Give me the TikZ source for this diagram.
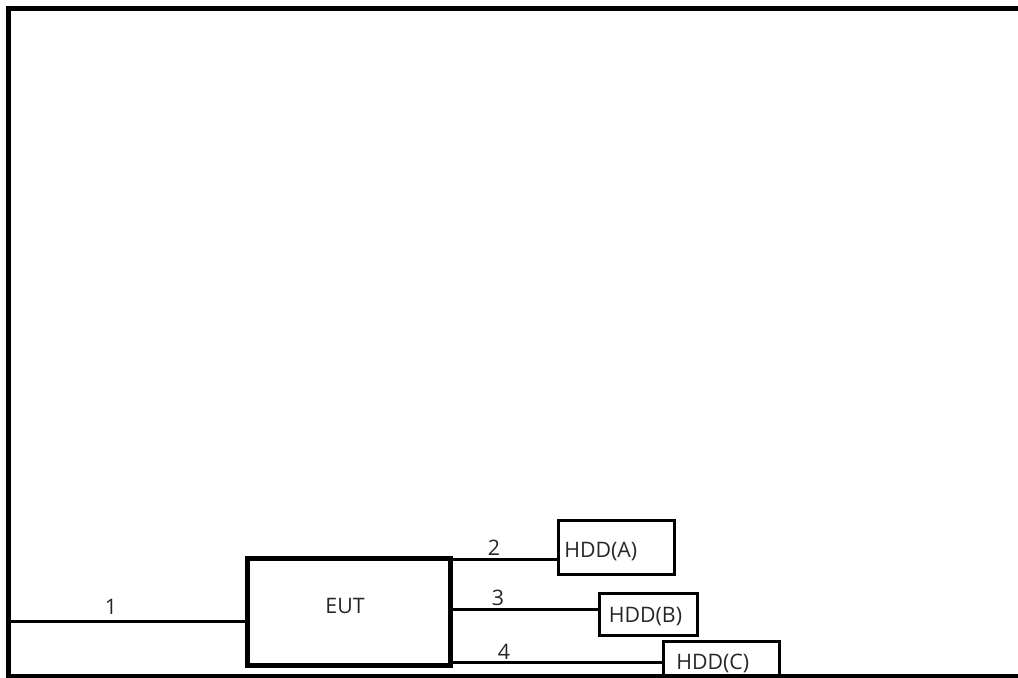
\documentclass[tikz,border=0pt]{standalone}
\usepackage{fontspec}
\setmainfont{Open Sans}
\begin{document}
\begin{tikzpicture}[x=0.75pt,y=-0.75pt,
  frame/.style={line width=3.75pt},
  eutbox/.style={draw,line width=3.75pt,minimum width=203*0.75pt,minimum height=107*0.75pt,inner sep=0pt},
  hddbox/.style={draw,line width=2.25pt,inner sep=0pt},
  conn/.style={line width=2.25pt},
  txt/.style={inner sep=0pt,text=black!85,font=\fontsize{16}{18}\selectfont}]
\useasboundingbox (0,0) rectangle (1018,678);
% EUT
\node[eutbox] (eut) at (348.5,612) {};
\node[txt] (eutt) at (345,606) {EUT};
% HDD boxes
\node[hddbox,minimum width=116*0.75pt,minimum height=53.5*0.75pt] (a) at (616.5,547.25) {};
\node[txt,anchor=west] (at) at (564,551.7) {HDD(A)};
\node[hddbox,minimum width=98.3*0.75pt,minimum height=42.4*0.75pt] (b) at (648.15,614.5) {};
\node[txt,anchor=west] (bt) at (608.5,616.7) {HDD(B)};
\node[hddbox,minimum width=116.3*0.75pt,minimum height=46*0.75pt] (c) at (721.15,664.7) {};
\node[txt,anchor=west] (ct) at (676,663) {HDD(C)};
% connectors
\coordinate (l1) at (8,621.7);
\coordinate (c2) at (0,559.3);
\coordinate (c3) at (0,609.3);
\coordinate (c4) at (0,662.3);
\draw[conn] (l1) -- (l1 -| eut.west);
\draw[conn] (eut.east |- c2) -- (a.west |- c2);
\draw[conn] (eut.east |- c3) -- (b.west |- c3);
\draw[conn] (eut.east |- c4) -- (c.west |- c4);
% labels
\node[txt] (n1) at (111,607) {1};
\node[txt] (n2) at (494,547.7) {2};
\node[txt] (n3) at (498,598) {3};
\node[txt] (n4) at (504,651.7) {4};
% frame
\draw[frame] (1030,8) -- (8,8) -- (8,676) -- (1030,676);
\end{tikzpicture}
\end{document}
